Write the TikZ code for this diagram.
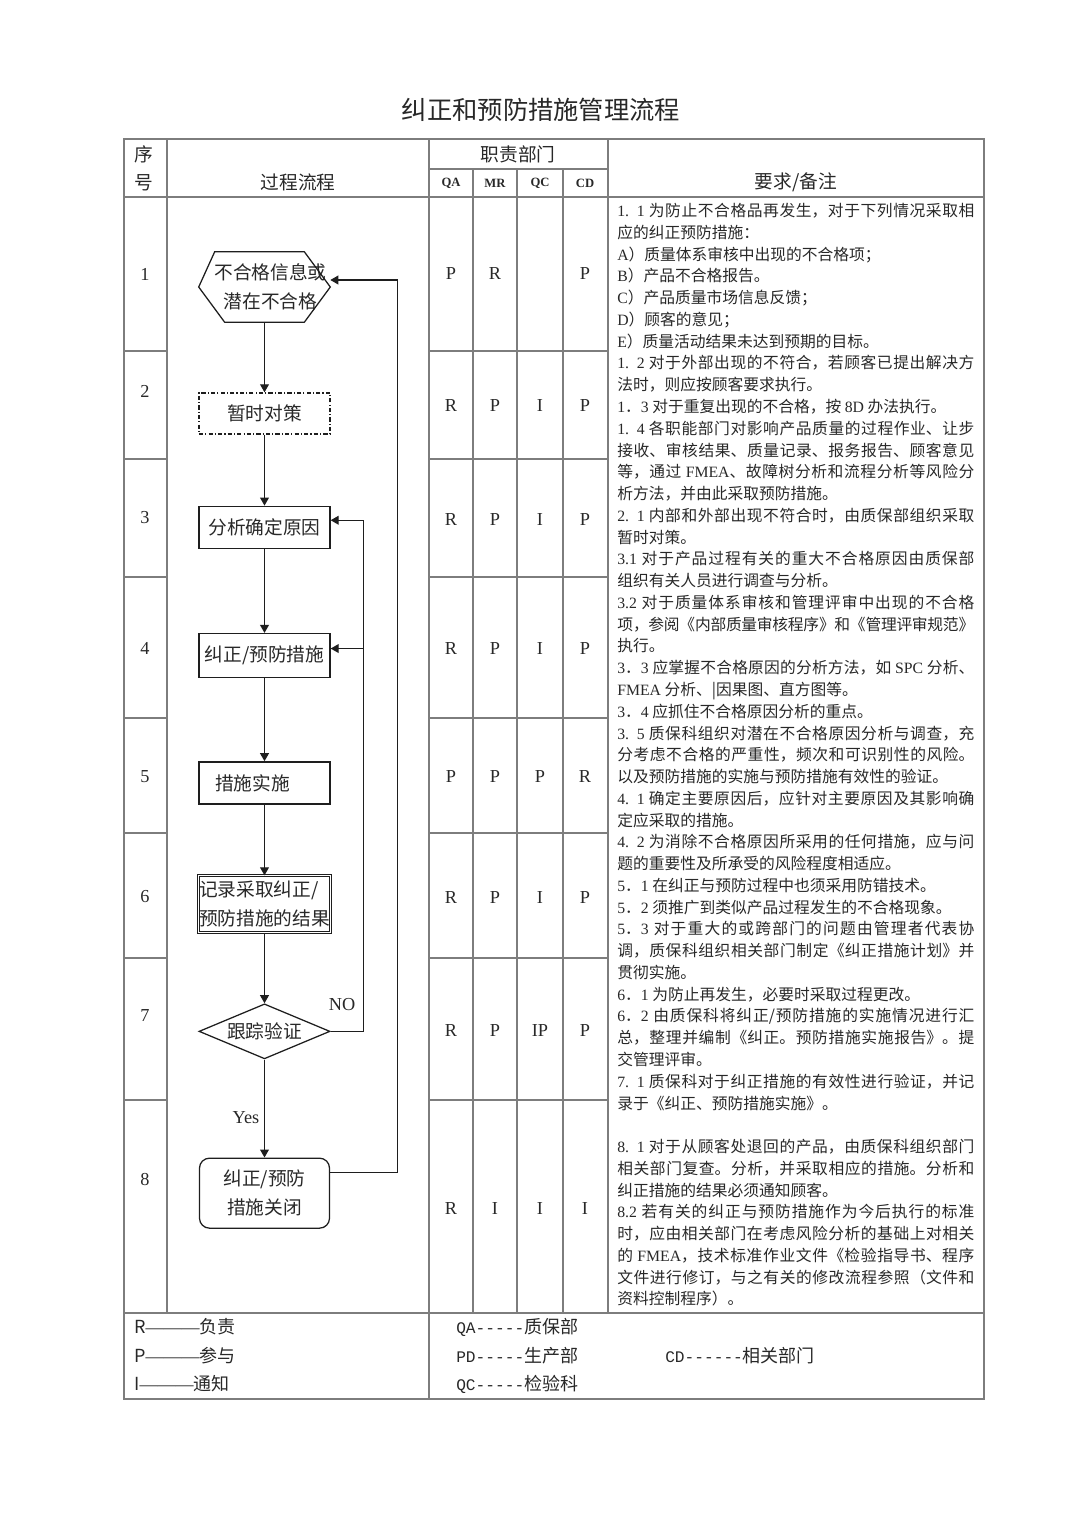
\documentclass[tikz,border=0pt]{standalone}
\usepackage{fontspec}
\usepackage{xcolor}
\usepackage{tikz}
\usetikzlibrary{shapes.geometric, arrows.meta, positioning, calc}
\setmainfont{Liberation Serif}
\newfontfamily\cjk{Noto Sans CJK SC}
\newfontfamily\legmono{Liberation Mono}
\XeTeXlinebreaklocale "zh"
\XeTeXlinebreakskip=0pt plus 1pt minus 0.5pt
\definecolor{inkdark}{RGB}{30,30,30}
\definecolor{gridgray}{RGB}{125,125,125}
\definecolor{textdark}{RGB}{40,40,40}
\newcommand{\lat}[1]{{\rmfamily #1}}
\newcommand{\mono}[1]{{\legmono\fontsize{11.5}{15}\selectfont #1}}
\newcommand{\fcfont}{\cjk\fontsize{13.3}{20.6}\selectfont}
\newcommand{\remfont}{\cjk\fontsize{11.2}{15.48}\selectfont}
\tikzset{
  flowbox/.style={rectangle, draw=inkdark, line width=0.9pt, text=textdark,
    minimum width=3.275cm, minimum height=1.05cm, inner sep=0pt,
    font=\fcfont, align=center},
  tmpbox/.style={flowbox, dash pattern=on 3pt off 1.5pt on 0.8pt off 1.5pt},
  implbox/.style={flowbox, line width=1.5pt},
  recbox/.style={flowbox, double, double distance=0.8pt, line width=0.6pt,
    minimum width=3.3cm, minimum height=1.425cm, align=left},
  hexnode/.style={rectangle, minimum width=3.275cm, minimum height=1.75cm,
    inner sep=0pt, font=\fcfont, text=textdark, align=center},
  checknode/.style={diamond, draw=inkdark, line width=0.9pt, aspect=2.4,
    minimum width=3.275cm, minimum height=1.375cm, inner sep=0pt,
    font=\fcfont, text=textdark},
  endbox/.style={flowbox, rounded corners=0.25cm,
    minimum width=3.25cm, minimum height=1.75cm},
  arrow/.style={-{Triangle[length=0.2cm, width=0.22cm]}, line width=0.9pt, color=inkdark},
  line/.style={line width=0.9pt, color=inkdark},
  tabrule/.style={line width=0.8pt, color=gridgray},
  resp/.style={font=\fontsize{13}{15}\selectfont, text=textdark},
  hdr/.style={font=\cjk\fontsize{13.3}{20}\selectfont, text=textdark, align=center},
  remark/.style={font=\remfont, text=textdark, text width=8.925cm,
    align=justify, inner sep=0pt},
  legend/.style={font=\cjk\fontsize{12.8}{15}\selectfont, text=textdark, inner sep=0pt}
}
\begin{document}
\begin{tikzpicture}[x=0.025cm, y=-0.025cm]
  \useasboundingbox (0,0) rectangle (1080,1527);
  % Title
  \node[font=\cjk\fontsize{18}{22}\selectfont, text=textdark] (title) at (541,110) {纠正和预防措施管理流程};
  % Table rules
  \draw[tabrule] (124,139) rectangle (984,1399);
  \draw[tabrule] (124,197) -- (984,197);
  \draw[tabrule] (124,1313) -- (984,1313);
  \draw[tabrule] (429,169) -- (608,169);
  \draw[tabrule] (429,139) -- (429,1399);
  \foreach \x in {167,608} \draw[tabrule] (\x,139) -- (\x,1313);
  \foreach \x in {473,517,563} \draw[tabrule] (\x,169) -- (\x,1313);
  \foreach \y in {351,459,577,718,833,958,1100} {
    \draw[tabrule] (124,\y) -- (167,\y);
    \draw[tabrule] (429,\y) -- (608,\y);
  }
  % Header
  \node[hdr] (hno) at (144,168) {序\\号};
  \node[hdr] (hflow) at (298,182) {过程流程};
  \node[hdr] (hdept) at (518,154) {职责部门};
  \node[hdr] (hreq) at (796,182) {要求/备注};
  \foreach \x/\d in {451/QA, 495/MR, 540/QC, 585/CD}
    \node[font=\bfseries\fontsize{9}{11}\selectfont, text=textdark] (h\d) at (\x,183) {\d};
  % Flow chart
  \node[hexnode] (src) at (264.5,287) {\hspace*{0.3cm}不合格信息或\\\hspace*{0.3cm}潜在不合格};
  \draw[line] (src.west) -- ([xshift=0.4cm]src.north west) -- ([xshift=-0.65cm]src.north east)
    -- (src.east) -- ([xshift=-0.65cm]src.south east) -- ([xshift=0.65cm]src.south west) -- cycle;
  \node[tmpbox, below=1.75cm of src, minimum height=1.025cm] (tmp) {暂时对策};
  \node[flowbox, below=1.775cm of tmp] (cause) {分析确定原因};
  \node[flowbox, below=2.1cm of cause, minimum height=1.1cm] (act) {\raisebox{-1.2mm}{纠正/预防措施}};
  \node[implbox, below=2.075cm of act] (impl) {措施实施\hspace*{0.6cm}};
  \node[recbox, below=1.75cm of impl] (rec) {记录采取纠正/\\预防措施的结果};
  \node[checknode, below=1.75cm of rec] (chk) {跟踪验证};
  \node[endbox, below=2.45cm of chk] (close) {纠正/预防\\措施关闭};
  % Main flow
  \draw[arrow] (src) -- (tmp);
  \draw[arrow] (tmp) -- (cause);
  \draw[arrow] (cause) -- (act);
  \draw[arrow] (act) -- (impl);
  \draw[arrow] (impl) -- (rec);
  \draw[arrow] (rec) -- (chk);
  \draw[arrow] (chk) -- (close);
  % Loops back
  \coordinate (causein) at ([yshift=0.175cm]cause.east);
  \coordinate (actin) at ([yshift=0.175cm]act.east);
  \draw[arrow] (chk.east) -- ++(33,0) coordinate (noturn) |- (causein);
  \draw[arrow] (actin -| noturn) -- (actin);
  \coordinate (closeout) at ([yshift=0.525cm]close.east);
  \coordinate (srcin) at ([yshift=0.175cm]src.east);
  \draw[arrow] (closeout) -- ++(67,0) |- (srcin);
  \node[resp] (nolbl) at (342,1005) {NO};
  \node[resp] (yeslbl) at (246,1118) {Yes};
  % Responsibilities
  \foreach \n/\yn/\yl/\qa/\mr/\qc/\cd in {1/274/274/P/R/{}/P, 2/391/406/R/P/I/P,
      3/518/520/R/P/I/P, 4/648/649/R/P/I/P, 5/777/777/P/P/P/R, 6/897/898/R/P/I/P,
      7/1016/1031/R/P/IP/P, 8/1179/1208/R/I/I/I} {
    \node[resp] (no\n) at (145,\yn) {\n};
    \node[resp] (qa\n) at (451,\yl) {\qa};
    \node[resp] (mr\n) at (495,\yl) {\mr};
    \node[resp] (qc\n) at (540,\yl) {\qc};
    \node[resp] (cd\n) at (585,\yl) {\cd};
  }
  % Remarks
  \node[remark, anchor=north west] (req) at (617,203) {%
\lat{1. 1} 为防止不合格品再发生，对于下列情况采取相\linebreak
应的纠正预防措施：\\
\lat{A}）质量体系审核中出现的不合格项；\\
\lat{B}）产品不合格报告。\\
\lat{C}）产品质量市场信息反馈；\\
\lat{D}）顾客的意见；\\
\lat{E}）质量活动结果未达到预期的目标。\\
\lat{1. 2} 对于外部出现的不符合，若顾客已提出解决方\linebreak
法时，则应按顾客要求执行。\\
\lat{1}．\lat{3} 对于重复出现的不合格，按 \lat{8D} 办法执行。\\
\lat{1. 4} 各职能部门对影响产品质量的过程作业、让步\linebreak
接收、审核结果、质量记录、报务报告、顾客意见\linebreak
等，通过 \lat{FMEA}、故障树分析和流程分析等风险分\linebreak
析方法，并由此采取预防措施。\\
\lat{2. 1} 内部和外部出现不符合时，由质保部组织采取\linebreak
暂时对策。\\
\lat{3.1} 对于产品过程有关的重大不合格原因由质保部\linebreak
组织有关人员进行调查与分析。\\
\lat{3.2} 对于质量体系审核和管理评审中出现的不合格\linebreak
项，参阅《内部质量审核程序》和《管理评审规范》\linebreak
执行。\\
\lat{3}．\lat{3} 应掌握不合格原因的分析方法，如 \lat{SPC} 分析、\linebreak
\lat{FMEA} 分析、|因果图、直方图等。\\
\lat{3}．\lat{4} 应抓住不合格原因分析的重点。\\
\lat{3. 5} 质保科组织对潜在不合格原因分析与调查，充\linebreak
分考虑不合格的严重性，频次和可识别性的风险。\linebreak
以及预防措施的实施与预防措施有效性的验证。\\
\lat{4. 1} 确定主要原因后，应针对主要原因及其影响确\linebreak
定应采取的措施。\\
\lat{4. 2} 为消除不合格原因所采用的任何措施，应与问\linebreak
题的重要性及所承受的风险程度相适应。\\
\lat{5}．\lat{1} 在纠正与预防过程中也须采用防错技术。\\
\lat{5}．\lat{2} 须推广到类似产品过程发生的不合格现象。\\
\lat{5}．\lat{3} 对于重大的或跨部门的问题由管理者代表协\linebreak
调，质保科组织相关部门制定《纠正措施计划》并\linebreak
贯彻实施。\\
\lat{6}．\lat{1} 为防止再发生，必要时采取过程更改。\\
\lat{6}．\lat{2} 由质保科将纠正/预防措施的实施情况进行汇\linebreak
总，整理并编制《纠正。预防措施实施报告》。提\linebreak
交管理评审。\\
\lat{7. 1} 质保科对于纠正措施的有效性进行验证，并记\linebreak
录于《纠正、预防措施实施》。\\[0.544cm]
\lat{8. 1} 对于从顾客处退回的产品，由质保科组织部门\linebreak
相关部门复查。分析，并采取相应的措施。分析和\linebreak
纠正措施的结果必须通知顾客。\\
\lat{8.2} 若有关的纠正与预防措施作为今后执行的标准\linebreak
时，应由相关部门在考虑风险分析的基础上对相关\linebreak
的 \lat{FMEA}，技术标准作业文件《检验指导书、程序\linebreak
文件进行修订，与之有关的修改流程参照（文件和\linebreak
资料控制程序）。};
  % Legend
  \node[legend, anchor=west] (lr) at (134,1327) {R\lat{———}负责};
  \node[legend, anchor=west] (lp) at (134,1356) {P\lat{———}参与};
  \node[legend, anchor=west] (li) at (134,1384) {I\lat{———}通知};
  \node[legend, anchor=west] (lqa) at (456,1327) {\mono{QA-----}质保部};
  \node[legend, anchor=west] (lpd) at (456,1356) {\mono{PD-----}生产部};
  \node[legend, anchor=west] (lqc) at (456,1384) {\mono{QC-----}检验科};
  \node[legend, anchor=west] (lcd) at (665,1356) {\mono{CD------}相关部门};
\end{tikzpicture}
\end{document}
